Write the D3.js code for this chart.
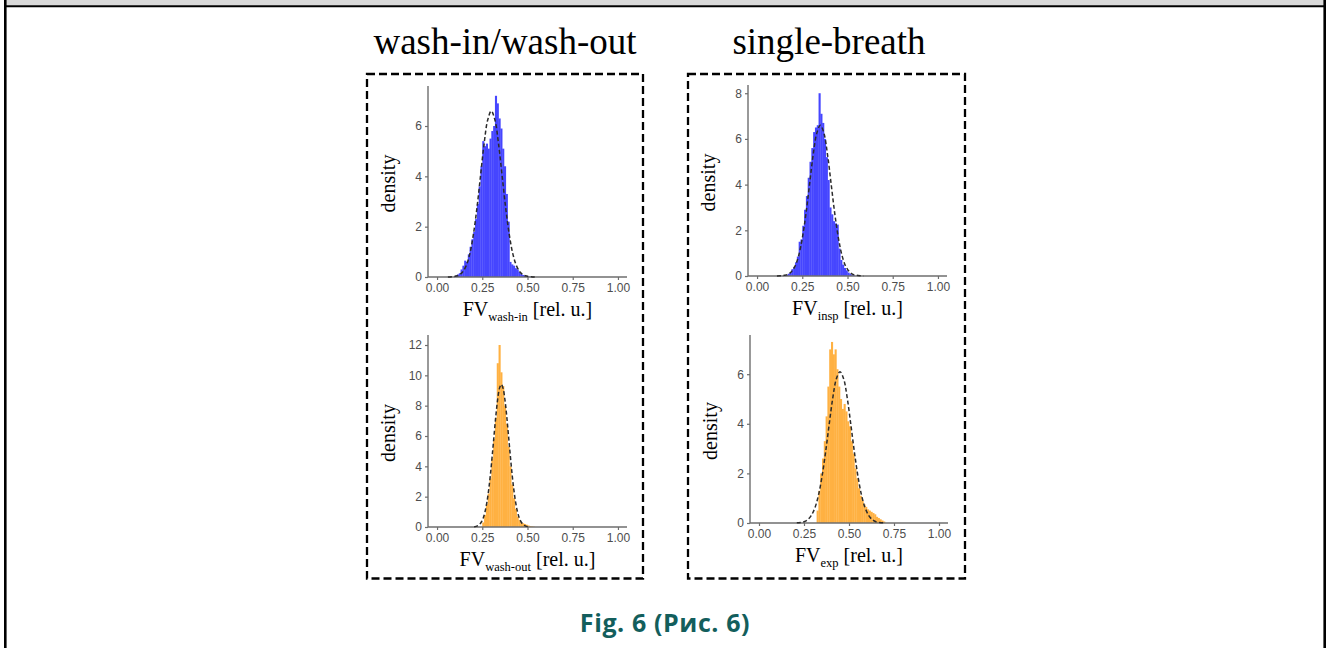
<html>
  <head>
    <meta charset="utf-8">
    <title>Fig. 6</title>
    <style>
      body { margin: 0; background: #fff; }
      svg { display: block; }
    </style>
  </head>
  <body>
    <script src="https://d3js.org/d3.v7.min.js" charset="utf-8"></script>
    <script>

    var width = 1330,
        height = 648;

    // histogram data (density per bin of width 0.01)
    var binWidth = 0.01;

    var washInStart = 0.10;
    var washInDensity = [0.05, 0.1, 0.15, 0.3, 0.45, 0.65, 0.6, 0.9, 1.2, 1.5,
                         1.8, 2.3, 2.9, 3.6, 4.4, 5.4, 5.2, 5.3, 5.1, 5.5,
                         5.8, 6.0, 7.2, 6.9, 6.3, 5.9, 5.1, 4.4, 3.3, 2.2,
                         0.6, 0.5, 0.45, 0.35, 0.3, 0.2, 0.12, 0.08, 0.05, 0.03,
                         0.02, 0.01, 0.01];

    var inspStart = 0.16;
    var inspDensity = [0.05, 0.1, 0.15, 0.3, 0.4, 0.6, 0.85, 1.5, 1.6, 2.2,
                       2.9, 3.5, 4.3, 5.0, 5.6, 6.3, 6.5, 6.6, 8.0, 7.1,
                       6.7, 6.0, 5.2, 4.2, 3.0, 2.7, 2.4, 2.3, 2.25, 1.2,
                       0.7, 0.5, 0.35, 0.25, 0.15, 0.1, 0.05, 0.03];

    var washOutStart = 0.25;
    var washOutDensity = [0.3, 0.8, 1.5, 2.2, 3.2, 4.5, 5.8, 7.2, 10.8, 12.0,
                          10.2, 9.3, 8.0, 6.8, 5.3, 4.0, 2.8, 1.9, 1.2, 0.7,
                          0.45, 0.3, 0.25, 0.2, 0.15, 0.1, 0.06, 0.04, 0.02];

    var expStart = 0.32;
    var expDensity = [0.5, 1.3, 2.0, 2.6, 3.3, 4.3, 5.5, 7.0, 7.3, 6.8,
                      7.0, 6.2, 5.5, 5.0, 4.6, 4.8, 4.5, 4.1, 3.9, 3.3,
                      2.8, 2.2, 1.8, 1.4, 1.1, 0.9, 0.75, 0.65, 0.55, 0.5,
                      0.45, 0.4, 0.35, 0.25, 0.2, 0.15, 0.1, 0.06];

    // fitted normal curves
    var washInCurveX = [0.06, 0.08, 0.10, 0.12, 0.14, 0.16, 0.18, 0.20, 0.22, 0.24, 0.26, 0.28, 0.30,
                        0.32, 0.34, 0.36, 0.38, 0.40, 0.42, 0.44, 0.46, 0.48, 0.50, 0.52, 0.54];
    var washInCurveY = [0, 0.01, 0.03, 0.07, 0.19, 0.43, 0.89, 1.65, 2.71, 4.0, 5.29, 6.24, 6.6,
                        6.24, 5.29, 4.0, 2.71, 1.65, 0.89, 0.43, 0.19, 0.07, 0.03, 0.01, 0];

    var inspCurveX = [0.11, 0.13, 0.15, 0.17, 0.19, 0.21, 0.23, 0.25, 0.27, 0.29, 0.31, 0.33, 0.35,
                      0.37, 0.39, 0.41, 0.43, 0.45, 0.47, 0.49, 0.51, 0.53, 0.55, 0.57, 0.59];
    var inspCurveY = [0, 0.01, 0.03, 0.07, 0.19, 0.43, 0.89, 1.65, 2.71, 4.0, 5.29, 6.24, 6.6,
                      6.24, 5.29, 4.0, 2.71, 1.65, 0.89, 0.43, 0.19, 0.07, 0.03, 0.01, 0];

    var washOutCurveX = [0.205, 0.215, 0.225, 0.235, 0.245, 0.255, 0.265, 0.275, 0.285, 0.295, 0.305,
                         0.315, 0.325, 0.335, 0.345, 0.355, 0.365, 0.375, 0.385, 0.395, 0.405,
                         0.415, 0.425, 0.435, 0.445, 0.455, 0.465, 0.475, 0.485, 0.495, 0.505];
    var washOutCurveY = [0.02, 0.04, 0.09, 0.17, 0.33, 0.58, 0.99, 1.59, 2.41, 3.46, 4.70,
                         6.03, 7.32, 8.41, 9.14, 9.4, 9.14, 8.41, 7.32, 6.03, 4.70,
                         3.46, 2.41, 1.59, 0.99, 0.58, 0.33, 0.17, 0.09, 0.04, 0.02];

    var expCurveX = [0.21, 0.23, 0.25, 0.27, 0.29, 0.31, 0.33, 0.35, 0.37, 0.39, 0.41, 0.43, 0.45,
                     0.47, 0.49, 0.51, 0.53, 0.55, 0.57, 0.59, 0.61, 0.63, 0.65, 0.67, 0.69];
    var expCurveY = [0.01, 0.02, 0.05, 0.13, 0.30, 0.60, 1.11, 1.87, 2.86, 3.98, 5.05, 5.82, 6.1,
                     5.82, 5.05, 3.98, 2.86, 1.87, 1.11, 0.60, 0.30, 0.13, 0.05, 0.02, 0.01];

    var xTicks = [0, 0.25, 0.5, 0.75, 1];
    var xTickLabels = ["0.00", "0.25", "0.50", "0.75", "1.00"];

    var groupTitles = ["wash-in/wash-out", "single-breath"];
    var caption = "Fig. 6 (\u0420\u0438\u0441. 6)";

    // panel layout (pixels) and per-panel settings
    var panels = [
      {left: 428, right: 627, top: 86, bottom: 277, yMax: 7.59, yTicks: [0, 2, 4, 6],
       start: washInStart, dens: washInDensity, cx: washInCurveX, cy: washInCurveY,
       fill: "#4646ff", sub: "wash-in"},
      {left: 748, right: 947, top: 85, bottom: 276, yMax: 8.36, yTicks: [0, 2, 4, 6, 8],
       start: inspStart, dens: inspDensity, cx: inspCurveX, cy: inspCurveY,
       fill: "#4646ff", sub: "insp"},
      {left: 428, right: 627, top: 335, bottom: 527, yMax: 12.66, yTicks: [0, 2, 4, 6, 8, 10, 12],
       start: washOutStart, dens: washOutDensity, cx: washOutCurveX, cy: washOutCurveY,
       fill: "#ffb142", sub: "wash-out"},
      {left: 750, right: 948, top: 335, bottom: 523, yMax: 7.58, yTicks: [0, 2, 4, 6],
       start: expStart, dens: expDensity, cx: expCurveX, cy: expCurveY,
       fill: "#ffb142", sub: "exp"}
    ];

    var svg = d3.select("body")
                .append("svg")
                .attr("width", width)
                .attr("height", height);

    // page frame
    svg.append("rect").attr("x", 6).attr("y", 0).attr("width", 1318).attr("height", 5.5).attr("fill", "#d9d9d9");
    svg.append("line").attr("x1", 4).attr("x2", 1326).attr("y1", 6.3).attr("y2", 6.3)
       .attr("stroke", "#000").attr("stroke-width", 2);
    svg.append("line").attr("x1", 5.3).attr("x2", 5.3).attr("y1", 0).attr("y2", height)
       .attr("stroke", "#000").attr("stroke-width", 2.6);
    svg.append("line").attr("x1", 1324.7).attr("x2", 1324.7).attr("y1", 0).attr("y2", height)
       .attr("stroke", "#000").attr("stroke-width", 2.6);

    // group titles and dashed boxes
    var boxes = [{x: 367, w: 276, cx: 505}, {x: 688, w: 277, cx: 829}];
    boxes.forEach(function(b, i) {
      svg.append("text")
         .attr("x", b.cx).attr("y", 54)
         .attr("text-anchor", "middle")
         .attr("font-family", "Liberation Serif, Times New Roman, serif")
         .attr("font-size", "37px")
         .attr("fill", "#000")
         .text(groupTitles[i]);
      svg.append("rect")
         .attr("x", b.x).attr("y", 74)
         .attr("width", b.w).attr("height", 504.5)
         .attr("fill", "none")
         .attr("stroke", "#000")
         .attr("stroke-width", 2.3)
         .attr("stroke-dasharray", "8,4");
    });

    function drawPanel(p) {
      var x = d3.scaleLinear().domain([-0.05, 1.05]).range([p.left, p.right]);
      var y = d3.scaleLinear().domain([0, p.yMax]).range([p.bottom, p.top]);
      var g = svg.append("g");

      // bars
      g.selectAll("rect")
       .data(p.dens)
       .enter().append("rect")
       .attr("x", function(d, i) { return x(p.start + i * binWidth); })
       .attr("width", function(d, i) { return x(p.start + (i + 1) * binWidth) - x(p.start + i * binWidth) + 0.3; })
       .attr("y", function(d) { return y(d); })
       .attr("height", function(d) { return y(0) - y(d); })
       .attr("fill", p.fill);

      // axes
      var xAxis = d3.axisBottom(x).tickValues(xTicks)
                    .tickFormat(function(d, i) { return xTickLabels[i]; })
                    .tickSize(3).tickPadding(3);
      var yAxis = d3.axisLeft(y).tickValues(p.yTicks).tickSize(3).tickPadding(3);

      var xa = g.append("g").attr("transform", "translate(0," + p.bottom + ")").call(xAxis);
      var ya = g.append("g").attr("transform", "translate(" + p.left + ",0)").call(yAxis);
      [xa, ya].forEach(function(a) {
        a.select(".domain").attr("stroke", "#6e6e6e").attr("stroke-width", 1.4);
        a.selectAll(".tick line").attr("stroke", "#6e6e6e").attr("stroke-width", 1.2);
        a.selectAll(".tick text")
         .attr("fill", "#4d4d4d")
         .attr("font-family", "Liberation Sans, Arial, sans-serif")
         .attr("font-size", "12px");
      });
      xa.select(".domain").attr("d", "M" + p.left + ",0H" + p.right);
      ya.select(".domain").attr("d", "M0," + p.bottom + "V" + p.top);

      // fitted curve
      var pts = p.cx.map(function(v, i) { return [v, p.cy[i]]; });
      g.append("path")
       .datum(pts)
       .attr("d", d3.line()
                    .x(function(d) { return x(d[0]); })
                    .y(function(d) { return y(d[1]); })
                    .curve(d3.curveCatmullRom))
       .attr("fill", "none")
       .attr("stroke", "#2b2b2b")
       .attr("stroke-width", 1.5)
       .attr("stroke-dasharray", "4,2.5");

      // axis titles
      g.append("text")
       .attr("transform", "translate(" + (p.left - 33) + "," + ((p.top + p.bottom) / 2 + 2) + ") rotate(-90)")
       .attr("text-anchor", "middle")
       .attr("font-family", "Liberation Serif, Times New Roman, serif")
       .attr("font-size", "20px")
       .attr("fill", "#000")
       .text("density");

      var t = g.append("text")
               .attr("x", (p.left + p.right) / 2)
               .attr("y", p.bottom + 39)
               .attr("text-anchor", "middle")
               .attr("font-family", "Liberation Serif, Times New Roman, serif")
               .attr("font-size", "20px")
               .attr("fill", "#000");
      t.append("tspan").text("FV");
      t.append("tspan").attr("font-size", "12.5px").attr("dy", 5).text(p.sub);
      t.append("tspan").attr("dy", -5).text(" [rel. u.]");
    }

    panels.forEach(drawPanel);

    svg.append("text")
       .attr("x", 665).attr("y", 632)
       .attr("text-anchor", "middle")
       .attr("font-family", "Open Sans, sans-serif")
       .attr("font-weight", "bold")
       .attr("font-size", "25px")
       .attr("letter-spacing", "0.6px")
       .attr("fill", "#135e5c")
       .text(caption);

    </script>
  </body>
</html>
